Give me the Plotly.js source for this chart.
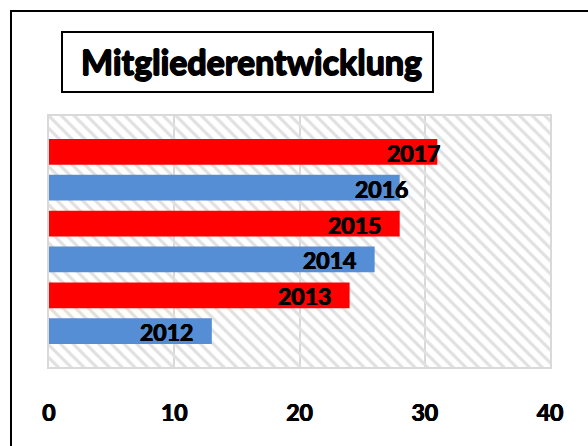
<!DOCTYPE html>
<html>
<head>
<meta charset="utf-8">
<script src="https://cdn.plot.ly/plotly-3.0.1.min.js"></script>
<style>html,body{margin:0;padding:0;background:#fff;}#chart{width:588px;height:446px;}</style>
</head>
<body>
<div id="chart"></div>
<script>
// Data
const years = [2012, 2013, 2014, 2015, 2016, 2017];
const members = [13, 24, 26, 28, 28, 31];
const barColors = ['#558ED5', '#FF0000', '#558ED5', '#FF0000', '#558ED5', '#FF0000'];
const xTicks = [0, 10, 20, 30, 40];
const titleText = 'Mitgliederentwicklung';

// Styling (label horizontal offsets in px, relative to bar end)
const labelShift = [-17, -17, -17, -17, 10, 5];

const xRange = [0, 40];
const yRange = [years[0] - 1, years[years.length - 1] + 1];

const L = 49, R = 550, T = 116, B = 367, W = 588, H = 446;
const px = v => (v - L) / (R - L);
const py = v => (B - v) / (B - T);

const bgTrace = {
  type: 'bar', orientation: 'h',
  x: [xRange[1]], y: [(yRange[0] + yRange[1]) / 2], width: [yRange[1] - yRange[0]], base: [xRange[0]],
  marker: { color: '#e0e0e0', line: { width: 0 },
    pattern: { shape: '\\', fillmode: 'replace', fgcolor: '#e0e0e0', bgcolor: 'rgba(0,0,0,0)', size: 9, solidity: 0.35 } },
  hoverinfo: 'skip', showlegend: false
};

const barTrace = {
  type: 'bar', orientation: 'h',
  x: members, y: years, width: 0.72,
  marker: { color: barColors, line: { width: 0 } },
  hoverinfo: 'skip', showlegend: false
};

const fam = 'Lato, "Open Sans", sans-serif';
const heavy = '0.5px 0 0 #000, -0.5px 0 0 #000, 0 0.4px 0 #000';
const labelFont = { family: fam, size: 23, color: '#000', weight: 'bold', shadow: heavy };

const annotations = years.map((yr, i) => ({
  x: members[i], y: yr, xref: 'x', yref: 'y',
  text: String(yr), showarrow: false,
  xanchor: 'right', yanchor: 'middle',
  xshift: labelShift[i], yshift: -1,
  font: labelFont
}));

annotations.push({
  xref: 'paper', yref: 'paper',
  x: px(251), y: py(62),
  xanchor: 'center', yanchor: 'middle',
  text: titleText, showarrow: false,
  font: { family: fam, size: 34, color: '#000', weight: 'bold',
    shadow: '0.8px 0 0 #000, -0.8px 0 0 #000, 0 0.6px 0 #000, 0 -0.6px 0 #000' }
});

const shapes = [
  { type: 'rect', xref: 'paper', yref: 'paper',
    x0: px(62), x1: px(433), y0: py(92), y1: py(32),
    line: { color: '#000', width: 2 }, fillcolor: 'rgba(0,0,0,0)' },
  { type: 'rect', xref: 'paper', yref: 'paper',
    x0: px(11), x1: px(W + 20), y0: py(H + 20), y1: py(11),
    line: { color: '#000', width: 2 }, fillcolor: 'rgba(0,0,0,0)' }
];

const layout = {
  width: W, height: H,
  margin: { l: L, r: W - R, t: T, b: H - B, pad: 0 },
  paper_bgcolor: '#fff', plot_bgcolor: '#fff',
  barmode: 'overlay',
  showlegend: false,
  xaxis: {
    range: xRange, tickvals: xTicks, ticktext: xTicks.map(String),
    showgrid: true, gridcolor: '#d9d9d9', gridwidth: 2,
    zeroline: false, showline: true, mirror: true, linecolor: '#d9d9d9', linewidth: 2,
    ticks: 'outside', ticklen: 24, tickcolor: 'rgba(0,0,0,0)',
    tickfont: { family: fam, size: 23, color: '#000', weight: 'bold', shadow: heavy }
  },
  yaxis: {
    range: yRange, showticklabels: false, showgrid: false, zeroline: false,
    showline: true, mirror: true, linecolor: '#d9d9d9', linewidth: 2, ticks: ''
  },
  annotations: annotations,
  shapes: shapes
};

Plotly.newPlot('chart', [bgTrace, barTrace], layout, { staticPlot: true, displayModeBar: false });
</script>
</body>
</html>
